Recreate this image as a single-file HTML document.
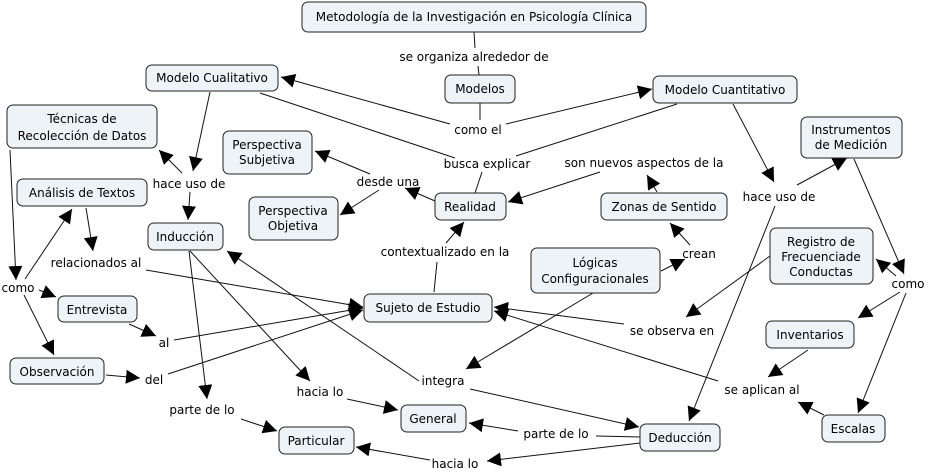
<!DOCTYPE html>
<html><head><meta charset="utf-8"><style>
html,body{margin:0;padding:0;background:#fff;}
svg{display:block;}
text{font-family:"DejaVu Sans","Liberation Sans",sans-serif;font-size:12px;fill:#000;text-anchor:middle;}
rect{fill:#edf3f6;stroke:#222;stroke-width:1;}
line{stroke:#111;stroke-width:1;}
</style></head><body>
<svg width="928" height="472" viewBox="0 0 928 472" xmlns="http://www.w3.org/2000/svg">
<defs><marker id="a" viewBox="0 0 10 10" refX="10" refY="5" markerWidth="14" markerHeight="14" markerUnits="userSpaceOnUse" orient="auto"><path d="M0,0 L10,5 L0,10 z" fill="#000"/></marker></defs>
<g>
<line x1="474" y1="32" x2="475" y2="48"/>
<line x1="478" y1="66" x2="479" y2="75"/>
<line x1="480" y1="103" x2="480" y2="120"/>
<line x1="450" y1="124" x2="281" y2="77" marker-end="url(#a)"/>
<line x1="506" y1="124" x2="652" y2="89" marker-end="url(#a)"/>
<line x1="260" y1="93" x2="455" y2="158"/>
<line x1="677" y1="104" x2="516" y2="156"/>
<line x1="482" y1="172" x2="475" y2="193"/>
<line x1="210" y1="92" x2="193" y2="171" marker-end="url(#a)"/>
<line x1="182" y1="173" x2="159" y2="150" marker-end="url(#a)"/>
<line x1="190" y1="192" x2="188" y2="220" marker-end="url(#a)"/>
<line x1="435" y1="201" x2="405" y2="188" marker-end="url(#a)"/>
<line x1="370" y1="174" x2="315" y2="151" marker-end="url(#a)"/>
<line x1="379" y1="190" x2="340" y2="215" marker-end="url(#a)"/>
<line x1="657" y1="192" x2="647" y2="175" marker-end="url(#a)"/>
<line x1="600" y1="172" x2="508" y2="202" marker-end="url(#a)"/>
<line x1="661" y1="271" x2="685" y2="259" marker-end="url(#a)"/>
<line x1="690" y1="245" x2="670" y2="223" marker-end="url(#a)"/>
<line x1="434" y1="292" x2="437" y2="262"/>
<line x1="446" y1="243" x2="464" y2="222" marker-end="url(#a)"/>
<line x1="733" y1="104" x2="774" y2="182" marker-end="url(#a)"/>
<line x1="797" y1="185" x2="847" y2="158" marker-end="url(#a)"/>
<line x1="775" y1="206" x2="689" y2="421" marker-end="url(#a)"/>
<line x1="854" y1="159" x2="904" y2="274" marker-end="url(#a)"/>
<line x1="896" y1="276" x2="876" y2="259" marker-end="url(#a)"/>
<line x1="900" y1="292" x2="858" y2="318" marker-end="url(#a)"/>
<line x1="906" y1="293" x2="858" y2="413" marker-end="url(#a)"/>
<line x1="770" y1="256" x2="686" y2="317" marker-end="url(#a)"/>
<line x1="624" y1="324" x2="494" y2="307" marker-end="url(#a)"/>
<line x1="808" y1="350" x2="768" y2="377" marker-end="url(#a)"/>
<line x1="824" y1="415" x2="798" y2="402" marker-end="url(#a)"/>
<line x1="718" y1="381" x2="494" y2="311" marker-end="url(#a)"/>
<line x1="10" y1="150" x2="16" y2="280" marker-end="url(#a)"/>
<line x1="25" y1="279" x2="72" y2="209" marker-end="url(#a)"/>
<line x1="39" y1="290" x2="56" y2="297" marker-end="url(#a)"/>
<line x1="24" y1="295" x2="54" y2="355" marker-end="url(#a)"/>
<line x1="86" y1="208" x2="93" y2="251" marker-end="url(#a)"/>
<line x1="146" y1="270" x2="363" y2="307" marker-end="url(#a)"/>
<line x1="129" y1="324" x2="156" y2="336" marker-end="url(#a)"/>
<line x1="174" y1="340" x2="363" y2="308" marker-end="url(#a)"/>
<line x1="106" y1="375" x2="140" y2="378" marker-end="url(#a)"/>
<line x1="168" y1="374" x2="363" y2="310" marker-end="url(#a)"/>
<line x1="189" y1="251" x2="207" y2="399" marker-end="url(#a)"/>
<line x1="241" y1="419" x2="277" y2="431" marker-end="url(#a)"/>
<line x1="190" y1="251" x2="310" y2="381" marker-end="url(#a)"/>
<line x1="347" y1="399" x2="398" y2="410" marker-end="url(#a)"/>
<line x1="419" y1="381" x2="227" y2="251" marker-end="url(#a)"/>
<line x1="593" y1="293" x2="466" y2="369" marker-end="url(#a)"/>
<line x1="470" y1="389" x2="639" y2="427" marker-end="url(#a)"/>
<line x1="640" y1="437" x2="596" y2="436"/>
<line x1="518" y1="431" x2="469" y2="423" marker-end="url(#a)"/>
<line x1="640" y1="443" x2="487" y2="461" marker-end="url(#a)"/>
<line x1="430" y1="460" x2="356" y2="447" marker-end="url(#a)"/>
</g>
<g>
<rect x="302" y="2" width="344" height="30" rx="6"/>
<rect x="445" y="75" width="70" height="28" rx="6"/>
<rect x="146" y="65" width="132" height="26" rx="6"/>
<rect x="653" y="76" width="144" height="27" rx="6"/>
<rect x="7" y="105" width="150" height="43" rx="6"/>
<rect x="223" y="131" width="89" height="43" rx="6"/>
<rect x="249" y="197" width="89" height="43" rx="6"/>
<rect x="17" y="179" width="130" height="27" rx="6"/>
<rect x="148" y="223" width="75" height="27" rx="6"/>
<rect x="435" y="193" width="71" height="27" rx="6"/>
<rect x="601" y="193" width="126" height="27" rx="6"/>
<rect x="801" y="117" width="101" height="41" rx="6"/>
<rect x="770" y="228" width="103" height="56" rx="6"/>
<rect x="531" y="248" width="129" height="45" rx="6"/>
<rect x="364" y="294" width="128" height="28" rx="6"/>
<rect x="58" y="296" width="79" height="26" rx="6"/>
<rect x="10" y="358" width="94" height="26" rx="6"/>
<rect x="766" y="321" width="88" height="27" rx="6"/>
<rect x="822" y="415" width="63" height="27" rx="6"/>
<rect x="401" y="405" width="65" height="27" rx="6"/>
<rect x="279" y="427" width="75" height="27" rx="6"/>
<rect x="640" y="424" width="80" height="27" rx="6"/>
</g>
<g>
<text x="474" y="21">Metodología de la Investigación en Psicología Clínica</text>
<text x="480" y="93">Modelos</text>
<text x="212" y="82">Modelo Cualitativo</text>
<text x="725" y="94">Modelo Cuantitativo</text>
<text x="82" y="123">Técnicas de</text><text x="82" y="140">Recolección de Datos</text>
<text x="267" y="149">Perspectiva</text><text x="267" y="164">Subjetiva</text>
<text x="293" y="215">Perspectiva</text><text x="293" y="230">Objetiva</text>
<text x="82" y="197">Análisis de Textos</text>
<text x="185" y="241">Inducción</text>
<text x="470" y="211">Realidad</text>
<text x="664" y="211">Zonas de Sentido</text>
<text x="851" y="134">Instrumentos</text><text x="851" y="149">de Medición</text>
<text x="821" y="246">Registro de</text><text x="821" y="261">Frecuenciade</text><text x="821" y="276">Conductas</text>
<text x="595" y="267">Lógicas</text><text x="595" y="283">Configuracionales</text>
<text x="428" y="312">Sujeto de Estudio</text>
<text x="97" y="314">Entrevista</text>
<text x="57" y="376">Observación</text>
<text x="810" y="339">Inventarios</text>
<text x="853" y="433">Escalas</text>
<text x="433" y="423">General</text>
<text x="316" y="445">Particular</text>
<text x="680" y="442">Deducción</text>

<text x="474" y="61">se organiza alrededor de</text>
<text x="478" y="134">como el</text>
<text x="487" y="168">busca explicar</text>
<text x="189" y="188">hace uso de</text>
<text x="388" y="186">desde una</text>
<text x="644" y="167">son nuevos aspectos de la</text>
<text x="779" y="201">hace uso de</text>
<text x="18" y="292">como</text>
<text x="96" y="267">relacionados al</text>
<text x="445" y="256">contextualizado en la</text>
<text x="699" y="258">crean</text>
<text x="908" y="288">como</text>
<text x="164" y="347">al</text>
<text x="672" y="335">se observa en</text>
<text x="154" y="384">del</text>
<text x="443" y="385">integra</text>
<text x="320" y="396">hacia lo</text>
<text x="202" y="414">parte de lo</text>
<text x="762" y="394">se aplican al</text>
<text x="556" y="438">parte de lo</text>
<text x="455" y="468">hacia lo</text>
</g>
</svg>
</body></html>
